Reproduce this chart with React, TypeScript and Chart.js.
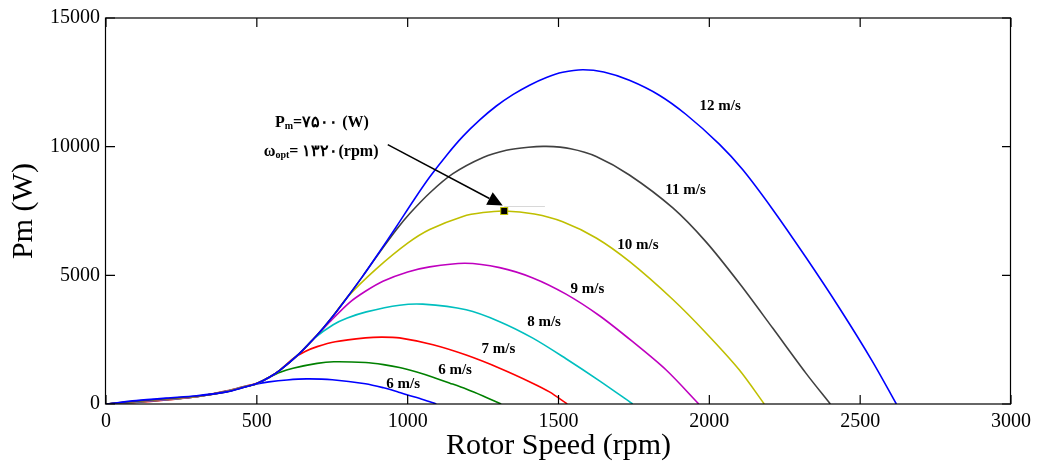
import { useEffect, useRef } from "react";
import { Chart, registerables } from "chart.js";

Chart.register(...registerables);

// Mechanical power (W) against rotor speed (rpm), one curve per wind speed
const rpm5 = [0, 100, 200, 300, 400, 450, 500, 540, 600, 665, 750, 860, 920, 970, 1000, 1050, 1095];
const watts5 = [0, 90, 185, 290, 480, 630, 780, 860, 935, 975, 945, 790, 630, 460, 350, 175, 0];

const rpm6 = [0, 100, 200, 300, 400, 450, 500, 540, 575, 620, 700, 755, 860, 920, 973, 1030, 1084, 1140, 1194, 1250, 1310];
const watts6 = [0, 75, 170, 285, 495, 640, 800, 1030, 1220, 1390, 1580, 1640, 1610, 1530, 1420, 1240, 1040, 810, 580, 310, 0];

const rpm7 = [0, 100, 200, 300, 400, 450, 500, 540, 575, 620, 660, 700, 760, 860, 913, 973, 1084, 1194, 1305, 1414, 1470, 1529];
const watts7 = [0, 60, 155, 280, 510, 660, 805, 1035, 1300, 1760, 2040, 2230, 2420, 2570, 2600, 2570, 2300, 1900, 1390, 810, 470, 0];

const rpm8 = [0, 100, 200, 300, 400, 450, 500, 540, 575, 640, 690, 753, 800, 863, 973, 1050, 1194, 1305, 1415, 1525, 1636, 1746];
const watts8 = [0, 70, 165, 280, 500, 650, 800, 1030, 1300, 1950, 2550, 3080, 3340, 3580, 3840, 3880, 3660, 3200, 2560, 1760, 900, 0];

const rpm9 = [0, 100, 200, 300, 400, 450, 500, 540, 575, 640, 700, 745, 808, 860, 918, 1000, 1073, 1190, 1305, 1415, 1525, 1636, 1746, 1857, 1965];
const watts9 = [0, 85, 180, 285, 490, 640, 800, 1030, 1300, 1950, 2680, 3230, 3950, 4380, 4770, 5130, 5330, 5470, 5300, 4900, 4270, 3430, 2420, 1320, 0];

const rpm10 = [0, 100, 200, 300, 400, 450, 500, 540, 575, 640, 700, 750, 800, 896, 1000, 1073, 1183, 1250, 1320, 1420, 1514, 1625, 1737, 1879, 1989, 2099, 2182];
const watts10 = [0, 95, 195, 290, 480, 635, 800, 1030, 1300, 1950, 2680, 3380, 4150, 5250, 6250, 6780, 7290, 7440, 7500, 7380, 7080, 6450, 5520, 4060, 2760, 1330, 0];

const rpm11 = [0, 100, 200, 300, 400, 450, 500, 540, 575, 640, 700, 750, 800, 850, 900, 963, 1007, 1073, 1150, 1250, 1327, 1400, 1459, 1540, 1625, 1735, 1879, 1989, 2099, 2210, 2320, 2401];
const watts11 = [0, 110, 210, 300, 470, 630, 800, 1030, 1300, 1950, 2680, 3380, 4150, 4950, 5780, 6780, 7400, 8200, 8950, 9580, 9860, 9980, 10010, 9920, 9620, 8900, 7620, 6300, 4700, 2950, 1200, 0];

const rpm12 = [0, 100, 200, 300, 400, 450, 500, 540, 575, 640, 700, 750, 800, 850, 900, 963, 1020, 1073, 1130, 1183, 1240, 1294, 1350, 1404, 1460, 1514, 1580, 1650, 1735, 1834, 1923, 2033, 2111, 2210, 2320, 2430, 2541, 2620];
const watts12 = [0, 130, 230, 320, 470, 625, 800, 1030, 1300, 1950, 2680, 3380, 4150, 4950, 5800, 6900, 7920, 8820, 9680, 10400, 11050, 11580, 12030, 12390, 12690, 12890, 12990, 12900, 12580, 12000, 11250, 10100, 9100, 7560, 5700, 3750, 1650, 0];

const seriesRpm = [rpm5, rpm6, rpm7, rpm8, rpm9, rpm10, rpm11, rpm12];
const seriesWatts = [watts5, watts6, watts7, watts8, watts9, watts10, watts11, watts12];
const seriesNames = ["6 m/s", "6 m/s", "7 m/s", "8 m/s", "9 m/s", "10 m/s", "11 m/s", "12 m/s"];
const seriesColors = ["#0000ff", "#008000", "#ff0000", "#00bfbf", "#bf00bf", "#bfbf00", "#404040", "#0000ff"];

// Where each wind-speed caption sits, in data units
const captionRpm = [985, 1157, 1301, 1452, 1596, 1763, 1921, 2036];
const captionWatts = [786, 1323, 2128, 3163, 4479, 6181, 8301, 11572];

const xTicks = [0, 500, 1000, 1500, 2000, 2500, 3000];
const yTicks = [0, 5000, 10000, 15000];

// Optimum operating point of the 10 m/s curve
const optRpm = 1320;
const optPower = 7500;

const SERIF = '"Liberation Serif", "Times New Roman", serif';

const toPersianDigits = (n: number) =>
  String(n).replace(/\d/g, (d) => "۰۱۲۳۴۵۶۷۸۹"[Number(d)]);

const framePlugin = {
  id: "frame",
  afterDatasetsDraw(chart: any) {
    const { ctx, chartArea, scales } = chart;
    const xs = scales.x;
    const ys = scales.y;
    const { left, right, top, bottom } = chartArea;
    ctx.save();

    // box and inward ticks
    ctx.strokeStyle = "#000";
    ctx.lineWidth = 1.2;
    ctx.strokeRect(left - 0.5, top, right - left, bottom - top);
    const tl = 9;
    ctx.beginPath();
    xTicks.forEach((v) => {
      const px = xs.getPixelForValue(v);
      ctx.moveTo(px, bottom);
      ctx.lineTo(px, bottom - tl);
      ctx.moveTo(px, top);
      ctx.lineTo(px, top + tl);
    });
    yTicks.forEach((v) => {
      const py = ys.getPixelForValue(v);
      ctx.moveTo(left, py);
      ctx.lineTo(left + tl, py);
      ctx.moveTo(right, py);
      ctx.lineTo(right - tl, py);
    });
    ctx.stroke();

    // wind-speed captions
    ctx.fillStyle = "#000";
    ctx.font = `bold 15px ${SERIF}`;
    ctx.textAlign = "center";
    ctx.textBaseline = "middle";
    seriesNames.forEach((name, i) => {
      ctx.fillText(name, xs.getPixelForValue(captionRpm[i]), ys.getPixelForValue(captionWatts[i]));
    });

    // optimum point: data-tip line, arrow and marker
    const mx = xs.getPixelForValue(optRpm);
    const my = ys.getPixelForValue(optPower);
    ctx.strokeStyle = "#d8d8d8";
    ctx.lineWidth = 1;
    ctx.beginPath();
    ctx.moveTo(mx, my - 4.5);
    ctx.lineTo(xs.getPixelForValue(1455), my - 4.5);
    ctx.stroke();

    const ax0 = xs.getPixelForValue(934);
    const ay0 = ys.getPixelForValue(10077);
    const ax1 = mx - 1.5;
    const ay1 = my - 5.5;
    const ang = Math.atan2(ay1 - ay0, ax1 - ax0);
    const headLen = 15;
    const headHalf = 7;
    const bx = ax1 - headLen * Math.cos(ang);
    const by = ay1 - headLen * Math.sin(ang);
    ctx.strokeStyle = "#000";
    ctx.lineWidth = 1.5;
    ctx.beginPath();
    ctx.moveTo(ax0, ay0);
    ctx.lineTo(bx, by);
    ctx.stroke();
    ctx.fillStyle = "#000";
    ctx.beginPath();
    ctx.moveTo(ax1, ay1);
    ctx.lineTo(bx + headHalf * Math.sin(ang), by - headHalf * Math.cos(ang));
    ctx.lineTo(bx - headHalf * Math.sin(ang), by + headHalf * Math.cos(ang));
    ctx.closePath();
    ctx.fill();

    ctx.fillStyle = "#000";
    ctx.fillRect(mx - 3.5, my - 3.5, 7, 7);
    ctx.strokeStyle = "#bfbf00";
    ctx.lineWidth = 1;
    ctx.strokeRect(mx - 3.5, my - 3.5, 7, 7);

    // annotation text
    ctx.fillStyle = "#000";
    ctx.textAlign = "left";
    ctx.textBaseline = "alphabetic";
    const big = `bold 16px ${SERIF}`;
    const small = `bold 10px ${SERIF}`;
    let tx = xs.getPixelForValue(560);
    let ty = ys.getPixelForValue(10782);
    ctx.font = big;
    ctx.fillText("P", tx, ty);
    tx += ctx.measureText("P").width;
    ctx.font = small;
    ctx.fillText("m", tx, ty + 2);
    tx += ctx.measureText("m").width;
    ctx.font = big;
    ctx.fillText(`=${toPersianDigits(optPower)} (W)`, tx, ty);

    tx = xs.getPixelForValue(523);
    ty = ys.getPixelForValue(9632);
    ctx.fillText("ω", tx, ty);
    tx += ctx.measureText("ω").width;
    ctx.font = small;
    ctx.fillText("opt", tx, ty + 2);
    tx += ctx.measureText("opt").width;
    ctx.font = big;
    ctx.fillText(`= ${toPersianDigits(optRpm)}(rpm)`, tx, ty);

    ctx.restore();
  },
};

export default function App() {
  const canvasRef = useRef<HTMLCanvasElement | null>(null);

  useEffect(() => {
    if (!canvasRef.current) return;
    const datasets = seriesRpm.map((xs, i) => ({
      label: seriesNames[i],
      data: xs.map((x, j) => ({ x, y: seriesWatts[i][j] })),
      borderColor: seriesColors[i],
      backgroundColor: seriesColors[i],
      borderWidth: 1.6,
      pointRadius: 0,
      tension: 0.3,
      fill: false,
      order: seriesRpm.length - 1 - i,
    }));

    const chart = new Chart(canvasRef.current, {
      type: "line",
      data: { datasets },
      options: {
        animation: false,
        responsive: false,
        devicePixelRatio: 1,
        layout: { padding: { left: 0, right: 25, top: 13, bottom: 0 } },
        plugins: {
          legend: { display: false },
          tooltip: { enabled: false },
        },
        scales: {
          x: {
            type: "linear",
            min: 0,
            max: 3000,
            grid: { display: false, drawTicks: false },
            border: { display: false },
            ticks: {
              stepSize: 500,
              color: "#000",
              padding: 6,
              maxRotation: 0,
              autoSkip: false,
              font: { family: SERIF, size: 20 },
              callback: (v: any) => String(v),
            },
            title: {
              display: true,
              text: "Rotor Speed (rpm)",
              color: "#000",
              font: { family: SERIF, size: 30, lineHeight: 1.2 },
              padding: { top: 0, bottom: 0 },
            },
            afterFit: (s: any) => {
              s.height = 60;
            },
          },
          y: {
            type: "linear",
            min: 0,
            max: 15000,
            grid: { display: false, drawTicks: false },
            border: { display: false },
            ticks: {
              stepSize: 5000,
              color: "#000",
              padding: 6,
              font: { family: SERIF, size: 20 },
              callback: (v: any) => String(v),
            },
            title: {
              display: true,
              text: "Pm (W)",
              color: "#000",
              font: { family: SERIF, size: 30, lineHeight: 1.2 },
              padding: { top: 6, bottom: 0 },
            },
            afterFit: (s: any) => {
              s.width = 106;
            },
          },
        },
      },
      plugins: [framePlugin],
    });
    return () => chart.destroy();
  }, []);

  return (
    <div style={{ position: "absolute", left: 0, top: 0, width: 1037, height: 464, background: "#fff" }}>
      <canvas ref={canvasRef} width={1037} height={464} style={{ display: "block" }} />
    </div>
  );
}
